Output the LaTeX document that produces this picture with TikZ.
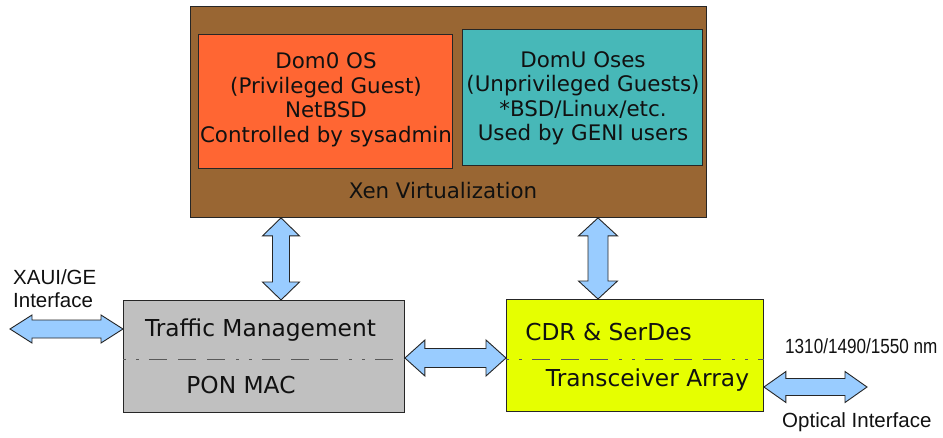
\documentclass[tikz,border=0pt]{standalone}
\usepackage{fontspec}
\setmainfont{DejaVu Sans}
\newfontfamily\labfont{Liberation Sans}
\usetikzlibrary{calc}
\definecolor{xenbrown}{HTML}{996633}
\definecolor{domorange}{HTML}{FF6633}
\definecolor{domteal}{HTML}{47B8B8}
\definecolor{tmgray}{HTML}{C0C0C0}
\definecolor{cdryellow}{HTML}{E6FF00}
\definecolor{arrowblue}{HTML}{99CCFF}
\definecolor{txt}{HTML}{111111}
\tikzset{
  box/.style={draw=black!85, line width=0.9pt, anchor=north west, inner sep=0pt},
  blockarrow/.style={draw=black!85, line width=0.9pt, fill=arrowblue, line join=miter},
  sepline/.style={draw=black!65, line width=0.9pt, dash pattern=on 3pt off 10pt on 3pt off 10pt on 18pt off 11pt on 18pt off 11pt on 18pt off 11pt},
  bigtxt/.style={font=\fontsize{21.4}{24.5}\selectfont, text=txt, align=center, inner sep=0pt},
  boxtxt/.style={font=\fontsize{23.3}{27}\selectfont, text=txt, inner sep=0pt},
  labtxt/.style={font=\labfont\fontsize{20.5}{23}\selectfont, text=txt, inner sep=0pt, align=left}
}
% horizontal double block arrow: #1 left tip, #2 right tip, #3 head length, #4 head half width, #5 shaft half width
\newcommand\hdblarrow[5]{%
  \path[blockarrow] let \p1=#1, \p2=#2 in
    (\x1,\y1) -- (\x1+#3pt,\y1+#4pt) -- (\x1+#3pt,\y1+#5pt) -- (\x2-#3pt,\y1+#5pt) -- (\x2-#3pt,\y1+#4pt)
    -- (\x2,\y1) -- (\x2-#3pt,\y1-#4pt) -- (\x2-#3pt,\y1-#5pt) -- (\x1+#3pt,\y1-#5pt) -- (\x1+#3pt,\y1-#4pt) -- cycle;}
% vertical double block arrow: #1 top tip, #2 bottom tip
\newcommand\vdblarrow[5]{%
  \path[blockarrow] let \p1=#1, \p2=#2 in
    (\x1,\y1) -- (\x1+#4pt,\y1-#3pt) -- (\x1+#5pt,\y1-#3pt) -- (\x1+#5pt,\y2+#3pt) -- (\x1+#4pt,\y2+#3pt)
    -- (\x1,\y2) -- (\x1-#4pt,\y2+#3pt) -- (\x1-#5pt,\y2+#3pt) -- (\x1-#5pt,\y1-#3pt) -- (\x1-#4pt,\y1-#3pt) -- cycle;}
\begin{document}
\begin{tikzpicture}[x=1pt,y=-1pt]
\fill[white] (0,0) rectangle (943,437);
\useasboundingbox (0,0) rectangle (943,437);
% Xen
\node[box, fill=xenbrown, minimum width=516pt, minimum height=211pt] (xen) at (190,6) {};
\node[box, fill=domorange, minimum width=254pt, minimum height=134pt] (dom0) at (198,34) {};
\node[box, fill=domteal, minimum width=240pt, minimum height=136pt] (domu) at (462,29) {};
\node[bigtxt] (dom0t) at (326,100) {Dom0 OS\\(Privileged Guest)\\NetBSD\\Controlled by sysadmin};
\node[bigtxt] (domut) at (583,98.5) {DomU Oses\\(Unprivileged Guests)\\*BSD/Linux/etc.\\Used by GENI users};
\node[bigtxt] (xent) at (443,191) {Xen Virtualization};
% lower boxes
\node[box, fill=tmgray, minimum width=281pt, minimum height=112pt] (tm) at (123,300) {};
\node[box, fill=cdryellow, minimum width=257pt, minimum height=112pt] (cdr) at (506,299) {};
\draw[sepline] (tm.west |- 0,359) coordinate (tmsl) -- (tm.east |- 0,359) coordinate (tmsr);
\draw[sepline] (cdr.west |- 0,359) coordinate (cdsl) -- (cdr.east |- 0,359) coordinate (cdsr);
\node[boxtxt] (tmt) at (260.5,330) {Traffic Management};
\node[boxtxt] (pont) at (241,385) {PON MAC};
\node[boxtxt] (cdrt) at (608.5,332) {CDR \& SerDes};
\node[boxtxt] (trt) at (647.5,380) {Transceiver Array};
% labels
\node[labtxt, anchor=west] (xaui1) at (13,277) {XAUI/GE};
\node[labtxt, anchor=west] (xaui2) at (13,300) {Interface};
\node[labtxt, anchor=west] (nm) at (785,346) {\scalebox{0.835}[1]{1310/1490/1550 nm}};
\node[labtxt, anchor=west] (opt) at (782,422) {Optical Interface};
% arrows
\coordinate (xauiend) at (10,329);
\coordinate (optend) at (867,387);
\hdblarrow{(xauiend)}{(tm.west |- xauiend)}{22}{14}{9}
\hdblarrow{(tm.east |- 0,358)}{(cdr.west |- 0,358)}{20}{18}{9.5}
\hdblarrow{(cdr.east |- optend)}{(optend)}{22}{15.5}{8.5}
\vdblarrow{(xen.south -| 281,0)}{(tm.north -| 281,0)}{18}{18.5}{8.5}
\vdblarrow{(xen.south -| 598,0)}{(cdr.north -| 598,0)}{18}{19.5}{10}
\end{tikzpicture}
\end{document}
